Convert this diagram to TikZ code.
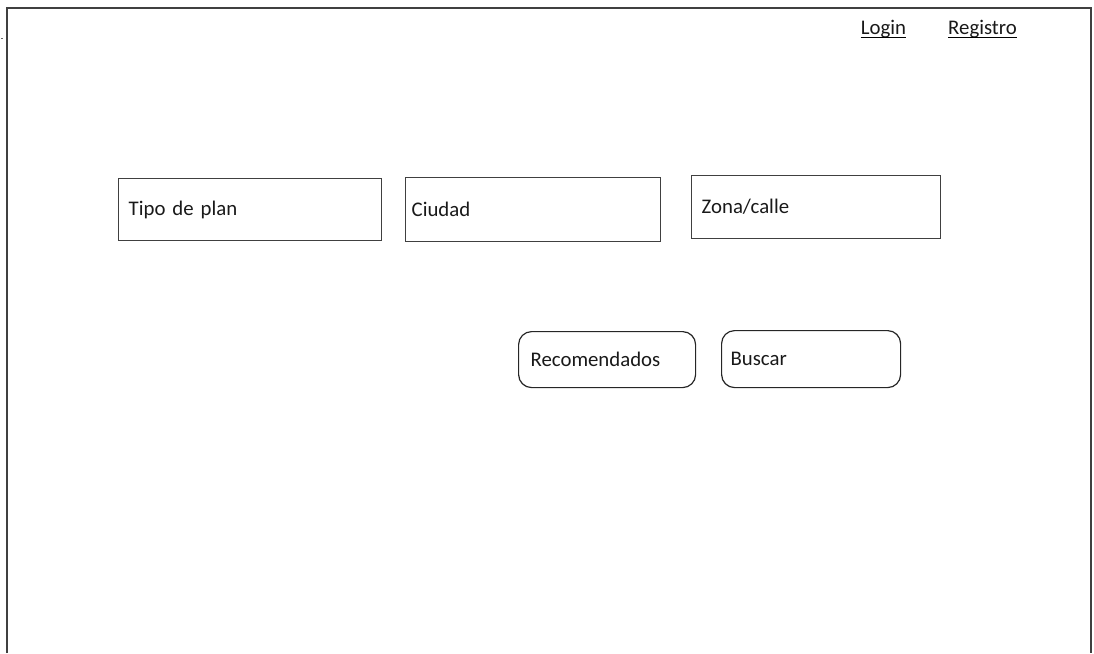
\documentclass[tikz,border=0pt]{standalone}
\usepackage{fontspec}
\setmainfont{Carlito}
\begin{document}
\begin{tikzpicture}[x=1pt,y=-1pt,
  every node/.style={font=\fontsize{20.8}{24}\selectfont, text=black!90},
  field/.style={draw=black!75, line width=1.4pt, anchor=north west, inner xsep=10pt, inner ysep=0pt, align=left},
  button/.style={draw=black!85, line width=1.2pt, rounded corners=13pt, anchor=north west, inner xsep=12pt, inner ysep=0pt, align=left},
  link/.style={inner sep=0pt, anchor=base}]
\useasboundingbox (0,0) rectangle (1094,653);
\draw[black!75, line width=1.8pt] (7,653) -- (7,8) -- (1091,8) -- (1091,653);
\fill[black!60] (1,37.5) rectangle (3,39);
\node[field, minimum width=263pt, minimum height=62pt, text width=243pt] (tipo) at (118,178) {Tipo de plan};
\node[field, minimum width=255pt, minimum height=64pt, text width=243pt, inner xsep=6pt] (ciudad) at (405,177) {Ciudad};
\node[field, minimum width=249pt, minimum height=63pt, text width=229pt] (zona) at (691,175) {Zona/calle};
\node[button, minimum width=177pt, minimum height=56pt, text width=153pt] (recom) at (518,331) {Recomendados};
\node[button, minimum width=179pt, minimum height=57pt, text width=161pt, inner xsep=9pt] (buscar) at (721,330) {Buscar};
\node[link] (login) at (883.5,34) {Login};
\node[link] (registro) at (982.5,34) {Registro};
\draw[line width=1.2pt] (login.base west) ++(0,3.5) coordinate (l1) -- (l1 -| login.base east);
\draw[line width=1.2pt] (registro.base west) ++(0,3.5) coordinate (r1) -- (r1 -| registro.base east);
\end{tikzpicture}
\end{document}
